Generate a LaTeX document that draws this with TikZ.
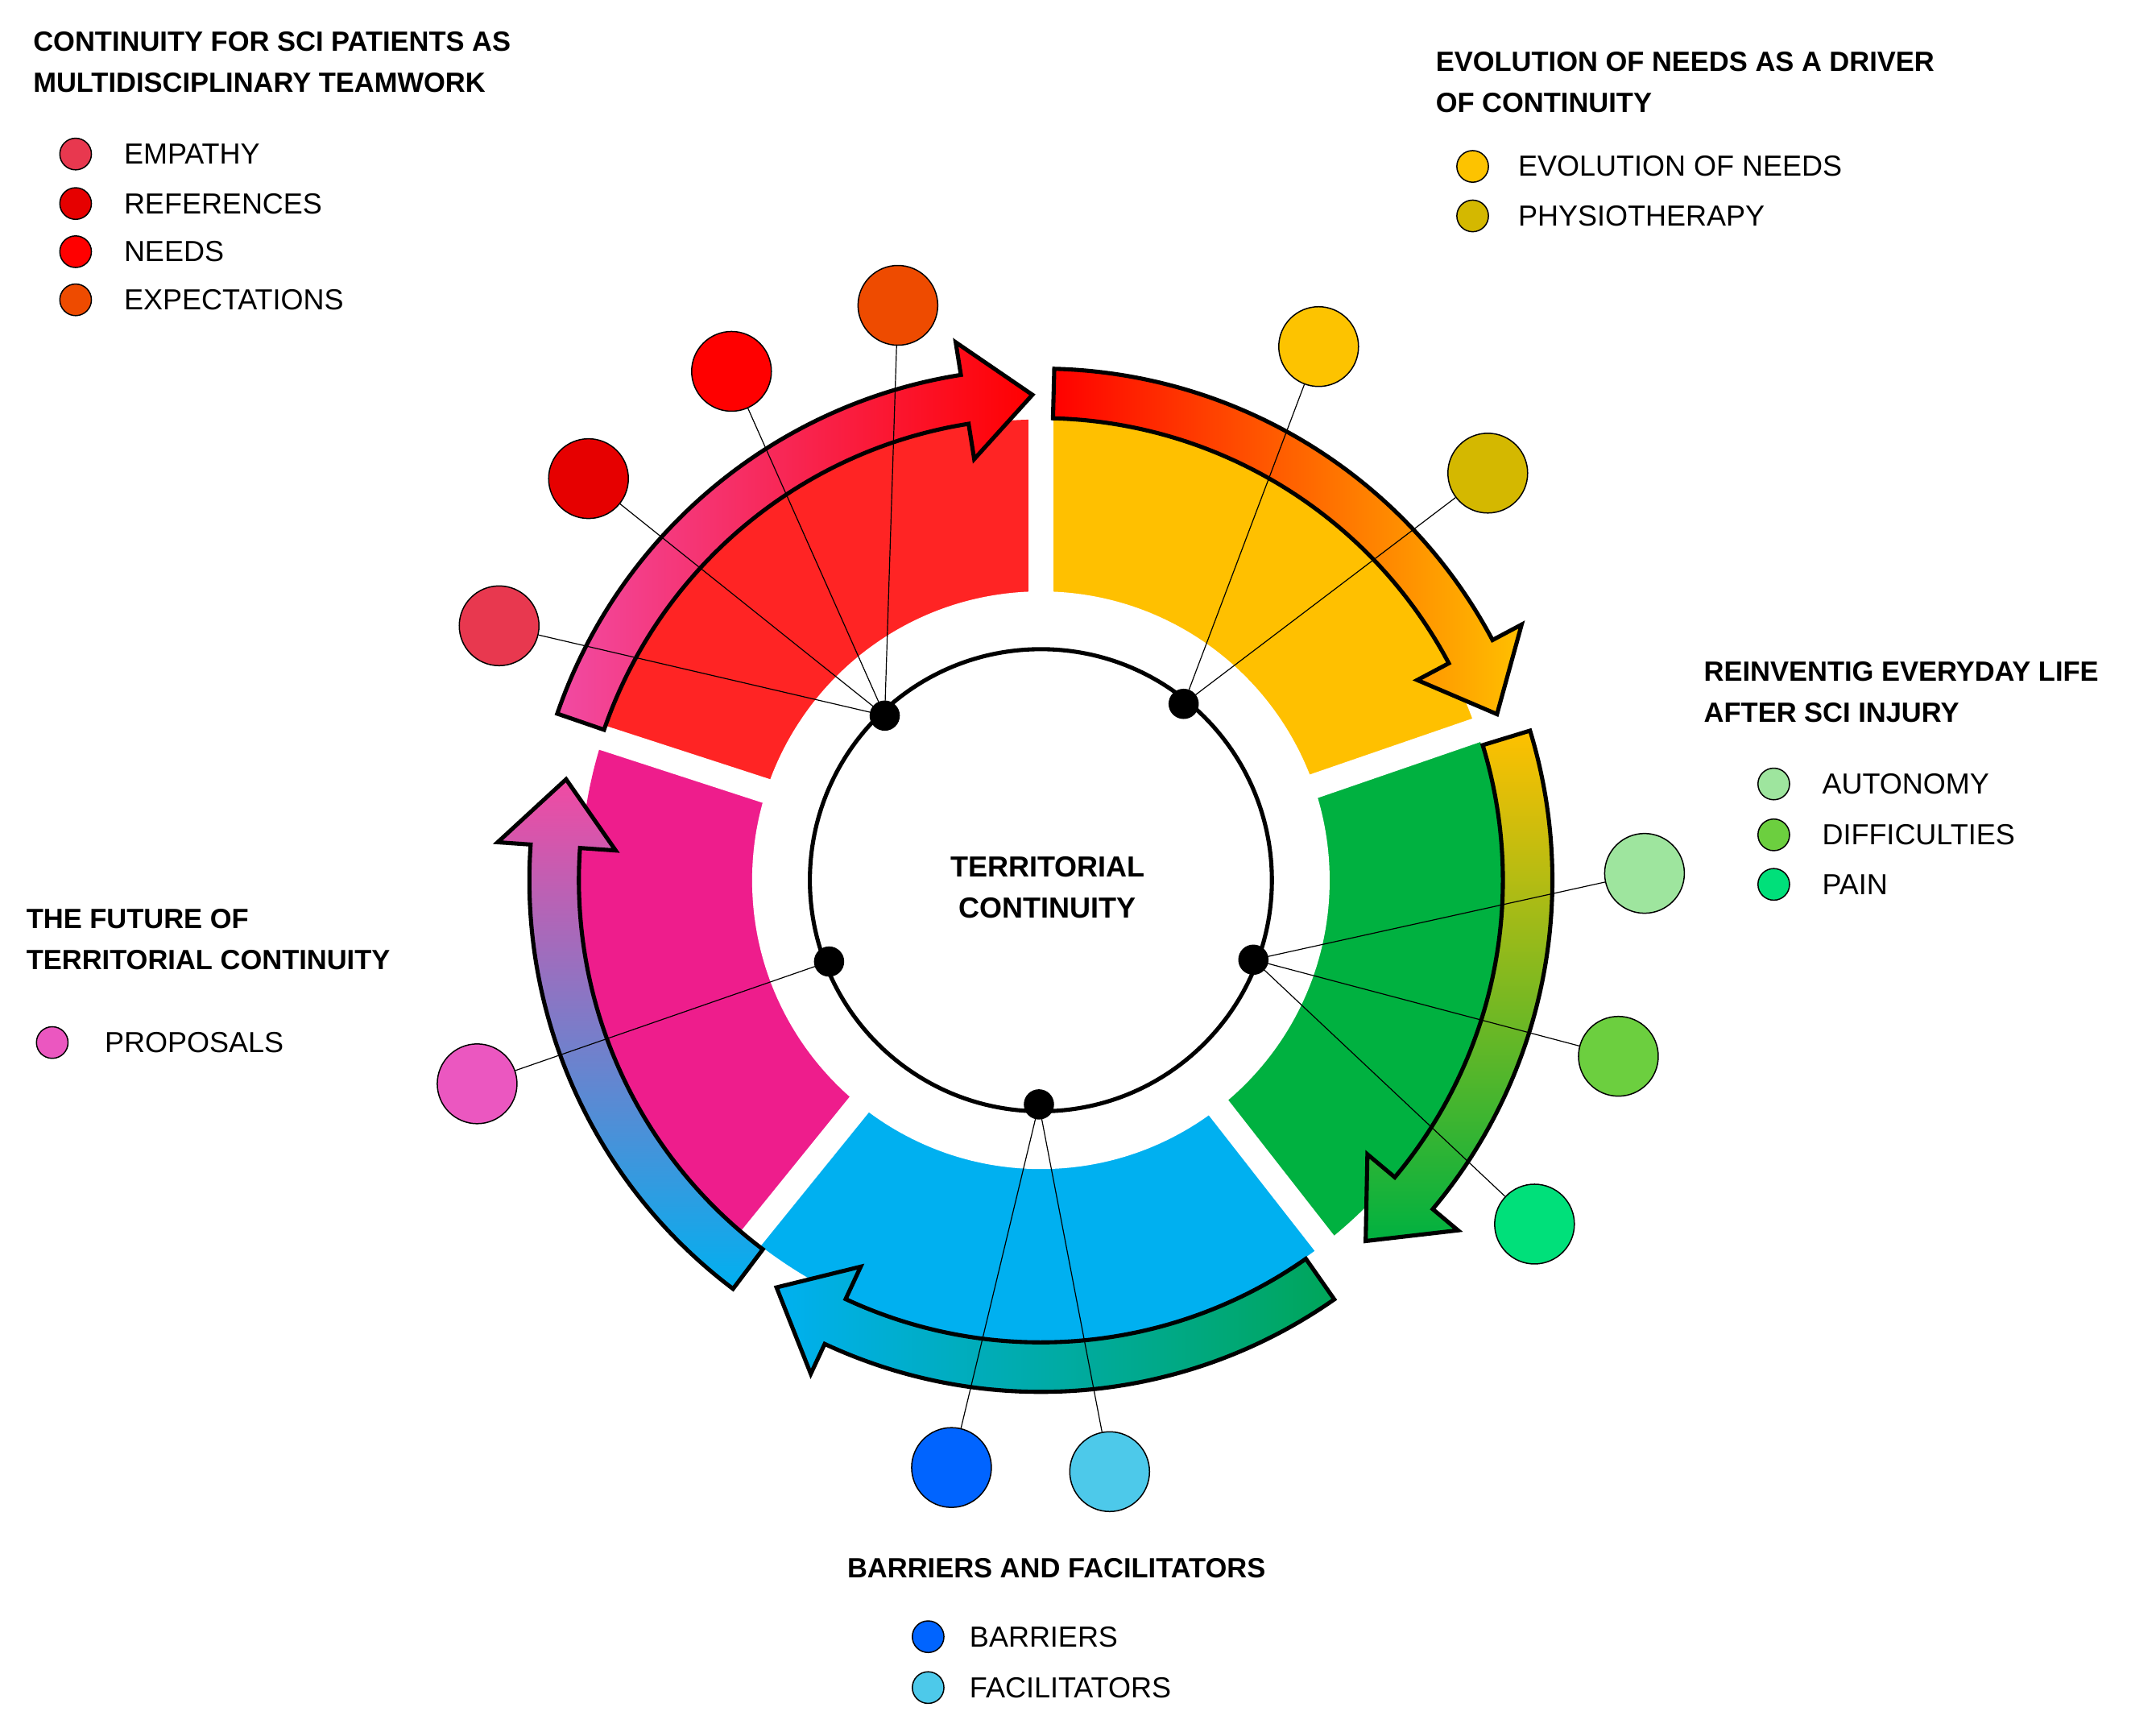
\documentclass[tikz,border=0pt]{standalone}
\usepackage{fontspec}
\setmainfont{Liberation Sans}
\usetikzlibrary{positioning}
\definecolor{ringred}{HTML}{FF2424}
\definecolor{ringyel}{HTML}{FFC000}
\definecolor{ringgrn}{HTML}{00B140}
\definecolor{ringblu}{HTML}{00B0F0}
\definecolor{ringmag}{HTML}{EE1D8C}
\definecolor{cEmp}{HTML}{E8384F}
\definecolor{cRef}{HTML}{E60000}
\definecolor{cNeed}{HTML}{FF0000}
\definecolor{cExp}{HTML}{EE4B00}
\definecolor{cEvo}{HTML}{FDC300}
\definecolor{cPhy}{HTML}{D4B800}
\definecolor{cAut}{HTML}{9EE59E}
\definecolor{cDif}{HTML}{6CCF3F}
\definecolor{cPain}{HTML}{00E07A}
\definecolor{cBar}{HTML}{0064FF}
\definecolor{cFac}{HTML}{4DC9EA}
\definecolor{cProp}{HTML}{EB57C0}
\tikzset{
  bubble/.style={circle, draw, line width=0.5pt, inner sep=0, minimum size=1.16cm},
  key/.style={circle, draw, line width=0.5pt, inner sep=0, minimum size=0.46cm},
  dot/.style={circle, fill=black, inner sep=0, minimum size=0.44cm},
  title/.style={anchor=west, align=left, font=\fontsize{11.5}{17}\selectfont\bfseries},
  item/.style={anchor=west, font=\fontsize{12}{14}\selectfont},
  arrowline/.style={draw=black, line width=1.7pt, line join=miter},
  spoke/.style={line width=0.4pt},
}
\newcommand\bendarrow[3]{%
  \path[arrowline,#3] (#1:336) arc[start angle=#1, end angle=#2+8, radius=336]
    -- (#2+8:310) -- (#2:353) -- (#2+8:396) -- (#2+8:372)
    arc[start angle=#2+8, end angle=#1, radius=372] -- cycle;}
\begin{document}
\begin{tikzpicture}[x=0.02cm, y=-0.02cm]
\useasboundingbox (0,0) rectangle (1568,1256);

\begin{scope}[shift={(757,640)}, y=0.02cm]
% ring
\fill[ringred] (0,0) -- (90:335) arc[start angle=90, end angle=162, radius=335] -- cycle;
\fill[ringmag] (0,0) -- (162:335) arc[start angle=162, end angle=231, radius=335] -- cycle;
\fill[ringblu] (0,0) -- (231:335) arc[start angle=231, end angle=308, radius=335] -- cycle;
\fill[ringgrn] (0,0) -- (308:335) arc[start angle=308, end angle=379, radius=335] -- cycle;
\fill[ringyel] (0,0) -- (19:335) arc[start angle=19, end angle=90, radius=335] -- cycle;
\foreach \a in {90,162,231,308,19}
  \draw[white, line width=0.36cm] (0,0) -- (\a:345);
\fill[white] (0,0) circle[radius=210];
% arrows
\bendarrow{161}{91}{left color=ringmag!80!white, right color=red}
\bendarrow{88.5}{20}{left color=red, middle color=orange, right color=ringyel}
\bendarrow{17}{-48}{top color=ringyel, bottom color=ringgrn}
\bendarrow{-55}{-123}{left color=ringblu, right color=teal!70!green}
\bendarrow{233}{168}{top color=ringmag!80!white, middle color=violet!50!white, bottom color=ringblu}
% hub
\draw[line width=1.7pt] (0,0) circle[radius=168];
\node[align=center, font=\fontsize{12}{17}\selectfont\bfseries] (hub) at (5,-5) {TERRITORIAL\\CONTINUITY};
\node[dot] (dRed) at (133.5:165) {};
\node[dot] (dYel) at (51:165) {};
\node[dot] (dGrn) at (-20.5:165) {};
\node[dot] (dBlu) at (-90.5:163) {};
\node[dot] (dMag) at (201:165) {};
\end{scope}

% bubbles
\node[bubble, fill=cEmp]  (bEmp)  at (363,455) {};
\node[bubble, fill=cRef]  (bRef)  at (428,348) {};
\node[bubble, fill=cNeed] (bNeed) at (532,270) {};
\node[bubble, fill=cExp]  (bExp)  at (653,222) {};
\node[bubble, fill=cEvo]  (bEvo)  at (959,252) {};
\node[bubble, fill=cPhy]  (bPhy)  at (1082,344) {};
\node[bubble, fill=cAut]  (bAut)  at (1196,635) {};
\node[bubble, fill=cDif]  (bDif)  at (1177,768) {};
\node[bubble, fill=cPain] (bPain) at (1116,890) {};
\node[bubble, fill=cBar]  (bBar)  at (692,1067) {};
\node[bubble, fill=cFac]  (bFac)  at (807,1070) {};
\node[bubble, fill=cProp] (bProp) at (347,788) {};

\foreach \b in {bEmp,bRef,bNeed,bExp} \draw[spoke] (dRed.center) -- (\b);
\foreach \b in {bEvo,bPhy} \draw[spoke] (dYel.center) -- (\b);
\foreach \b in {bAut,bDif,bPain} \draw[spoke] (dGrn.center) -- (\b);
\foreach \b in {bBar,bFac} \draw[spoke] (dBlu.center) -- (\b);
\draw[spoke] (dMag.center) -- (bProp);

% legends
\node[title] (tRed) at (18,45) {CONTINUITY FOR SCI PATIENTS AS\\MULTIDISCIPLINARY TEAMWORK};
\node[key, fill=cEmp]  (kEmp)  at (55,112) {}; \node[item] at (84,112) {EMPATHY};
\node[key, fill=cRef]  (kRef)  at (55,148) {}; \node[item] at (84,148) {REFERENCES};
\node[key, fill=cNeed] (kNeed) at (55,183) {}; \node[item] at (84,183) {NEEDS};
\node[key, fill=cExp]  (kExp)  at (55,218) {}; \node[item] at (84,218) {EXPECTATIONS};

\node[title] (tYel) at (1038,60) {EVOLUTION OF NEEDS AS A DRIVER\\OF CONTINUITY};
\node[key, fill=cEvo] (kEvo) at (1071,121) {}; \node[item] at (1098,121) {EVOLUTION OF NEEDS};
\node[key, fill=cPhy] (kPhy) at (1071,157) {}; \node[item] at (1098,157) {PHYSIOTHERAPY};

\node[title] (tGrn) at (1233,503) {REINVENTIG EVERYDAY LIFE\\AFTER SCI INJURY};
\node[key, fill=cAut]  (kAut)  at (1290,570) {}; \node[item] at (1319,570) {AUTONOMY};
\node[key, fill=cDif]  (kDif)  at (1290,607) {}; \node[item] at (1319,607) {DIFFICULTIES};
\node[key, fill=cPain] (kPain) at (1290,643) {}; \node[item] at (1319,643) {PAIN};

\node[title] (tMag) at (13,683) {THE FUTURE OF\\TERRITORIAL CONTINUITY};
\node[key, fill=cProp] (kProp) at (38,758) {}; \node[item] at (70,758) {PROPOSALS};

\node[title] (tBlu) at (610,1140) {BARRIERS AND FACILITATORS};
\node[key, fill=cBar] (kBar) at (675,1190) {}; \node[item] at (699,1190) {BARRIERS};
\node[key, fill=cFac] (kFac) at (675,1227) {}; \node[item] at (699,1227) {FACILITATORS};
\end{tikzpicture}
\end{document}
